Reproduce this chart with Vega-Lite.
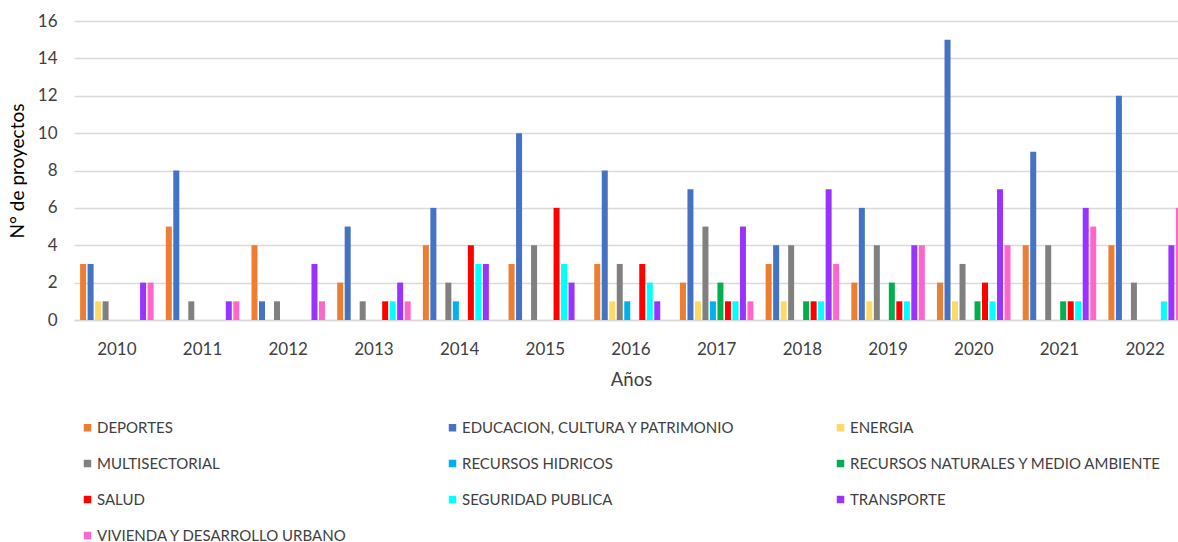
{
  "$schema": "https://vega.github.io/schema/vega-lite/v6.json",
  "autosize": {"type": "none"},
  "padding": {"left": 74, "top": 21, "right": 0, "bottom": 222},
  "width": 1114,
  "height": 299,
  "background": "white",
  "config": {
    "font": "Lato",
    "view": {"stroke": null}
  },
  "data": {
    "values": [
      {"year": "2010", "sector": "DEPORTES", "n": 3},
      {"year": "2010", "sector": "EDUCACION, CULTURA Y PATRIMONIO", "n": 3},
      {"year": "2010", "sector": "ENERGIA", "n": 1},
      {"year": "2010", "sector": "MULTISECTORIAL", "n": 1},
      {"year": "2010", "sector": "TRANSPORTE", "n": 2},
      {"year": "2010", "sector": "VIVIENDA Y DESARROLLO URBANO", "n": 2},
      {"year": "2011", "sector": "DEPORTES", "n": 5},
      {"year": "2011", "sector": "EDUCACION, CULTURA Y PATRIMONIO", "n": 8},
      {"year": "2011", "sector": "MULTISECTORIAL", "n": 1},
      {"year": "2011", "sector": "TRANSPORTE", "n": 1},
      {"year": "2011", "sector": "VIVIENDA Y DESARROLLO URBANO", "n": 1},
      {"year": "2012", "sector": "DEPORTES", "n": 4},
      {"year": "2012", "sector": "EDUCACION, CULTURA Y PATRIMONIO", "n": 1},
      {"year": "2012", "sector": "MULTISECTORIAL", "n": 1},
      {"year": "2012", "sector": "TRANSPORTE", "n": 3},
      {"year": "2012", "sector": "VIVIENDA Y DESARROLLO URBANO", "n": 1},
      {"year": "2013", "sector": "DEPORTES", "n": 2},
      {"year": "2013", "sector": "EDUCACION, CULTURA Y PATRIMONIO", "n": 5},
      {"year": "2013", "sector": "MULTISECTORIAL", "n": 1},
      {"year": "2013", "sector": "SALUD", "n": 1},
      {"year": "2013", "sector": "SEGURIDAD PUBLICA", "n": 1},
      {"year": "2013", "sector": "TRANSPORTE", "n": 2},
      {"year": "2013", "sector": "VIVIENDA Y DESARROLLO URBANO", "n": 1},
      {"year": "2014", "sector": "DEPORTES", "n": 4},
      {"year": "2014", "sector": "EDUCACION, CULTURA Y PATRIMONIO", "n": 6},
      {"year": "2014", "sector": "MULTISECTORIAL", "n": 2},
      {"year": "2014", "sector": "RECURSOS HIDRICOS", "n": 1},
      {"year": "2014", "sector": "SALUD", "n": 4},
      {"year": "2014", "sector": "SEGURIDAD PUBLICA", "n": 3},
      {"year": "2014", "sector": "TRANSPORTE", "n": 3},
      {"year": "2015", "sector": "DEPORTES", "n": 3},
      {"year": "2015", "sector": "EDUCACION, CULTURA Y PATRIMONIO", "n": 10},
      {"year": "2015", "sector": "MULTISECTORIAL", "n": 4},
      {"year": "2015", "sector": "SALUD", "n": 6},
      {"year": "2015", "sector": "SEGURIDAD PUBLICA", "n": 3},
      {"year": "2015", "sector": "TRANSPORTE", "n": 2},
      {"year": "2016", "sector": "DEPORTES", "n": 3},
      {"year": "2016", "sector": "EDUCACION, CULTURA Y PATRIMONIO", "n": 8},
      {"year": "2016", "sector": "ENERGIA", "n": 1},
      {"year": "2016", "sector": "MULTISECTORIAL", "n": 3},
      {"year": "2016", "sector": "RECURSOS HIDRICOS", "n": 1},
      {"year": "2016", "sector": "SALUD", "n": 3},
      {"year": "2016", "sector": "SEGURIDAD PUBLICA", "n": 2},
      {"year": "2016", "sector": "TRANSPORTE", "n": 1},
      {"year": "2017", "sector": "DEPORTES", "n": 2},
      {"year": "2017", "sector": "EDUCACION, CULTURA Y PATRIMONIO", "n": 7},
      {"year": "2017", "sector": "ENERGIA", "n": 1},
      {"year": "2017", "sector": "MULTISECTORIAL", "n": 5},
      {"year": "2017", "sector": "RECURSOS HIDRICOS", "n": 1},
      {"year": "2017", "sector": "RECURSOS NATURALES Y MEDIO AMBIENTE", "n": 2},
      {"year": "2017", "sector": "SALUD", "n": 1},
      {"year": "2017", "sector": "SEGURIDAD PUBLICA", "n": 1},
      {"year": "2017", "sector": "TRANSPORTE", "n": 5},
      {"year": "2017", "sector": "VIVIENDA Y DESARROLLO URBANO", "n": 1},
      {"year": "2018", "sector": "DEPORTES", "n": 3},
      {"year": "2018", "sector": "EDUCACION, CULTURA Y PATRIMONIO", "n": 4},
      {"year": "2018", "sector": "ENERGIA", "n": 1},
      {"year": "2018", "sector": "MULTISECTORIAL", "n": 4},
      {"year": "2018", "sector": "RECURSOS NATURALES Y MEDIO AMBIENTE", "n": 1},
      {"year": "2018", "sector": "SALUD", "n": 1},
      {"year": "2018", "sector": "SEGURIDAD PUBLICA", "n": 1},
      {"year": "2018", "sector": "TRANSPORTE", "n": 7},
      {"year": "2018", "sector": "VIVIENDA Y DESARROLLO URBANO", "n": 3},
      {"year": "2019", "sector": "DEPORTES", "n": 2},
      {"year": "2019", "sector": "EDUCACION, CULTURA Y PATRIMONIO", "n": 6},
      {"year": "2019", "sector": "ENERGIA", "n": 1},
      {"year": "2019", "sector": "MULTISECTORIAL", "n": 4},
      {"year": "2019", "sector": "RECURSOS NATURALES Y MEDIO AMBIENTE", "n": 2},
      {"year": "2019", "sector": "SALUD", "n": 1},
      {"year": "2019", "sector": "SEGURIDAD PUBLICA", "n": 1},
      {"year": "2019", "sector": "TRANSPORTE", "n": 4},
      {"year": "2019", "sector": "VIVIENDA Y DESARROLLO URBANO", "n": 4},
      {"year": "2020", "sector": "DEPORTES", "n": 2},
      {"year": "2020", "sector": "EDUCACION, CULTURA Y PATRIMONIO", "n": 15},
      {"year": "2020", "sector": "ENERGIA", "n": 1},
      {"year": "2020", "sector": "MULTISECTORIAL", "n": 3},
      {"year": "2020", "sector": "RECURSOS NATURALES Y MEDIO AMBIENTE", "n": 1},
      {"year": "2020", "sector": "SALUD", "n": 2},
      {"year": "2020", "sector": "SEGURIDAD PUBLICA", "n": 1},
      {"year": "2020", "sector": "TRANSPORTE", "n": 7},
      {"year": "2020", "sector": "VIVIENDA Y DESARROLLO URBANO", "n": 4},
      {"year": "2021", "sector": "DEPORTES", "n": 4},
      {"year": "2021", "sector": "EDUCACION, CULTURA Y PATRIMONIO", "n": 9},
      {"year": "2021", "sector": "MULTISECTORIAL", "n": 4},
      {"year": "2021", "sector": "RECURSOS NATURALES Y MEDIO AMBIENTE", "n": 1},
      {"year": "2021", "sector": "SALUD", "n": 1},
      {"year": "2021", "sector": "SEGURIDAD PUBLICA", "n": 1},
      {"year": "2021", "sector": "TRANSPORTE", "n": 6},
      {"year": "2021", "sector": "VIVIENDA Y DESARROLLO URBANO", "n": 5},
      {"year": "2022", "sector": "DEPORTES", "n": 4},
      {"year": "2022", "sector": "EDUCACION, CULTURA Y PATRIMONIO", "n": 12},
      {"year": "2022", "sector": "MULTISECTORIAL", "n": 2},
      {"year": "2022", "sector": "SEGURIDAD PUBLICA", "n": 1},
      {"year": "2022", "sector": "TRANSPORTE", "n": 4},
      {"year": "2022", "sector": "VIVIENDA Y DESARROLLO URBANO", "n": 6}
    ]
  },
  "mark": {"type": "bar"},
  "encoding": {
    "x": {
      "field": "year",
      "type": "nominal",
      "scale": {"paddingInner": 0.125, "paddingOuter": 0.0625},
      "axis": {
        "title": "Años",
        "titleFontSize": 18.5,
        "titleFontWeight": "normal",
        "titleColor": "#404040",
        "titlePadding": 13,
        "labelAngle": 0,
        "labelFontSize": 17,
        "labelColor": "#404040",
        "labelPadding": 21,
        "ticks": false,
        "domainColor": "#d9d9d9",
        "domainWidth": 1.5
      }
    },
    "xOffset": {
      "field": "sector",
      "type": "nominal",
      "scale": {
        "domain": ["DEPORTES", "EDUCACION, CULTURA Y PATRIMONIO", "ENERGIA", "MULTISECTORIAL", "RECURSOS HIDRICOS", "RECURSOS NATURALES Y MEDIO AMBIENTE", "SALUD", "SEGURIDAD PUBLICA", "TRANSPORTE", "VIVIENDA Y DESARROLLO URBANO"],
        "paddingInner": 0.2,
        "paddingOuter": 0.1
      }
    },
    "y": {
      "field": "n",
      "type": "quantitative",
      "scale": {"domain": [0, 16]},
      "axis": {
        "title": "N° de proyectos",
        "titleFontSize": 19,
        "titleFontWeight": "normal",
        "titleColor": "#000000",
        "titlePadding": 10,
        "values": [0, 2, 4, 6, 8, 10, 12, 14, 16],
        "labelFontSize": 17,
        "labelColor": "#404040",
        "labelPadding": 17,
        "ticks": false,
        "domain": false,
        "gridColor": "#d9d9d9",
        "gridWidth": 1.5
      }
    },
    "color": {
      "field": "sector",
      "type": "nominal",
      "scale": {
        "domain": ["DEPORTES", "EDUCACION, CULTURA Y PATRIMONIO", "ENERGIA", "MULTISECTORIAL", "RECURSOS HIDRICOS", "RECURSOS NATURALES Y MEDIO AMBIENTE", "SALUD", "SEGURIDAD PUBLICA", "TRANSPORTE", "VIVIENDA Y DESARROLLO URBANO"],
        "range": ["#ED7D31", "#4472C4", "#FFD966", "#808080", "#00B0F0", "#00B050", "#FF0000", "#00FFFF", "#9933FF", "#FF66CC"]
      },
      "legend": {
        "title": null,
        "orient": "none",
        "legendX": 6,
        "legendY": 399,
        "direction": "horizontal",
        "columns": 3,
        "columnPadding": 97,
        "rowPadding": 20,
        "symbolType": "square",
        "symbolSize": 56,
        "symbolStrokeWidth": 0,
        "labelFontSize": 15,
        "labelColor": "#404040",
        "labelLimit": 400,
        "labelOffset": 2
      }
    }
  }
}
